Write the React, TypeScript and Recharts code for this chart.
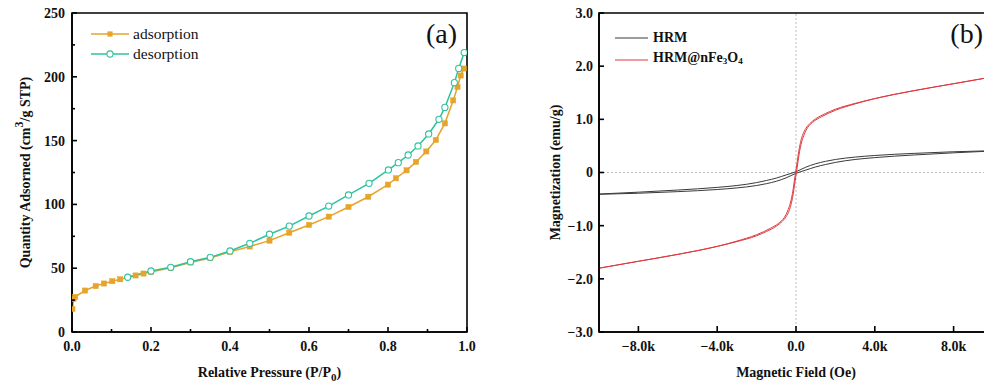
import React from 'react';
import { LineChart, Line, XAxis, YAxis, ReferenceArea, ReferenceLine, Legend, Label } from 'recharts';

const SERIF = '"Liberation Serif", "Times New Roman", Times, serif';

// ---------- Panel (a): N2 isotherm ----------
const adsorptionP = [0.001, 0.004, 0.008, 0.033, 0.06, 0.081, 0.102, 0.122, 0.161, 0.181, 0.2, 0.25, 0.3, 0.35, 0.4, 0.45, 0.5, 0.55, 0.6, 0.65, 0.7, 0.75, 0.8, 0.82, 0.847, 0.871, 0.897, 0.921, 0.944, 0.965, 0.976, 0.984, 0.992];
const adsorptionQ = [18, 26, 27.5, 32.5, 36, 38, 39.8, 41.3, 44.3, 45.8, 47, 50.3, 54.5, 58, 62.8, 67, 71.6, 77.8, 83.9, 90.4, 98, 106, 115.5, 120.5, 126.7, 133.3, 141.5, 150.5, 163.5, 181.5, 192, 201, 206.5];
const desorptionP = [0.993, 0.979, 0.968, 0.944, 0.929, 0.903, 0.876, 0.851, 0.826, 0.801, 0.752, 0.7, 0.65, 0.6, 0.55, 0.5, 0.45, 0.4, 0.35, 0.3, 0.25, 0.2, 0.141];
const desorptionQ = [219, 206.6, 195.4, 176, 166.7, 155.2, 145.8, 138.7, 132.7, 127, 116.5, 107.4, 98.7, 90.9, 83, 76.6, 69.5, 63.5, 58.5, 55.1, 50.7, 47.8, 42.9];
const pressureTicks = [0, 0.1, 0.2, 0.3, 0.4, 0.5, 0.6, 0.7, 0.8, 0.9, 1.0];
const quantityTicks = [0, 25, 50, 75, 100, 125, 150, 175, 200, 225, 250];

// ---------- Panel (b): magnetic hysteresis ----------
const hrmUpperH = [-10000, -8000, -6000, -4000, -3000, -2000, -1500, -1000, -500, 0, 500, 1000, 1500, 2000, 3000, 4000, 6000, 8000, 10000];
const hrmUpperM = [-0.405, -0.37, -0.33, -0.28, -0.245, -0.19, -0.15, -0.105, -0.045, 0.015, 0.1, 0.165, 0.21, 0.245, 0.29, 0.32, 0.36, 0.39, 0.41];
const hrmLowerH = [-10000, -8000, -6000, -4000, -3000, -2000, -1500, -1000, -500, 0, 500, 1000, 1500, 2000, 3000, 4000, 6000, 8000, 10000];
const hrmLowerM = [-0.41, -0.39, -0.36, -0.32, -0.29, -0.245, -0.21, -0.165, -0.1, -0.015, 0.045, 0.105, 0.15, 0.19, 0.245, 0.28, 0.33, 0.37, 0.405];
const feUpperH = [-10000, -8000, -6000, -4000, -3000, -2000, -1300, -900, -600, -400, -250, -160, -100, -40, 20, 80, 150, 250, 350, 500, 700, 1000, 1500, 2000, 3000, 4000, 6000, 8000, 10000];
const feUpperM = [-1.8, -1.67, -1.54, -1.39, -1.29, -1.17, -1.05, -0.96, -0.85, -0.7, -0.52, -0.35, -0.2, -0.05, 0.1, 0.25, 0.42, 0.6, 0.72, 0.83, 0.92, 1.01, 1.11, 1.19, 1.3, 1.39, 1.54, 1.67, 1.8];
const feLowerH = [-10000, -8000, -6000, -4000, -3000, -2000, -1500, -1000, -700, -500, -350, -250, -150, -80, -20, 40, 100, 160, 250, 400, 600, 900, 1300, 2000, 3000, 4000, 6000, 8000, 10000];
const feLowerM = [-1.8, -1.67, -1.54, -1.39, -1.3, -1.19, -1.11, -1.01, -0.92, -0.83, -0.72, -0.6, -0.42, -0.25, -0.1, 0.05, 0.2, 0.35, 0.52, 0.7, 0.85, 0.96, 1.05, 1.17, 1.29, 1.39, 1.54, 1.67, 1.8];
const fieldTicks = [-8000, -4000, 0, 4000, 8000];
const magTicks = [-3, -2, -1, 0, 1, 2, 3];

const zip = (xs: number[], ys: number[], kx: string, ky: string) =>
  xs.map((x, i) => ({ [kx]: x, [ky]: ys[i] }));

const adsData = zip(adsorptionP, adsorptionQ, 'p', 'q');
const desData = zip(desorptionP, desorptionQ, 'p', 'q');
const hrmUpper = zip(hrmUpperH, hrmUpperM, 'h', 'm');
const hrmLower = zip(hrmLowerH, hrmLowerM, 'h', 'm');
const feUpper = zip(feUpperH, feUpperM, 'h', 'm');
const feLower = zip(feLowerH, feLowerM, 'h', 'm');

const ORANGE = '#E6A42B';
const TEAL = '#2FC29E';
const RED = '#DD3A3F';
const DARK = '#3a3a3a';

const tickText = { fontFamily: SERIF, fontWeight: 700, fontSize: 14, fill: '#111' } as const;

const minus = (s: string) => s.replace('-', '\u2212');

const makeXTick = (isMajor: (v: number) => boolean, fmt: (v: number) => string, major = 5, minor = 3) => (props: any) => {
  const { x, y, payload } = props;
  const v = payload.value;
  const mj = isMajor(v);
  return (
    <g>
      <line x1={x} x2={x} y1={y} y2={y - (mj ? major : minor)} stroke="#000" strokeWidth={1.6} />
      {mj && (
        <text x={x} y={y + 19} textAnchor="middle" {...tickText}>{fmt(v)}</text>
      )}
    </g>
  );
};

const makeYTick = (isMajor: (v: number) => boolean, fmt: (v: number) => string, gap: number, major = 5, minor = 3) => (props: any) => {
  const { x, y, payload } = props;
  const v = payload.value;
  const mj = isMajor(v);
  return (
    <g>
      <line x1={x} x2={x + (mj ? major : minor)} y1={y} y2={y} stroke="#000" strokeWidth={1.6} />
      {mj && (
        <text x={x - gap} y={y} dy="0.35em" textAnchor="end" {...tickText}>{fmt(v)}</text>
      )}
    </g>
  );
};

const pTick = makeXTick((v) => Math.round(v * 10) % 2 === 0, (v) => v.toFixed(1));
const qTick = makeYTick((v) => v % 50 === 0, (v) => String(v), 7);
const hTick = makeXTick(() => true, (v) => (v === 0 ? '0.0' : minus((v / 1000).toFixed(1) + 'k')), 6);
const mTick = makeYTick(() => true, (v) => (v === 0 ? '0' : minus(v.toFixed(1))), 6);

const titleStyle = { fontFamily: SERIF, fontWeight: 700, fontSize: 14, fill: '#111' } as const;

const XTitleA = (props: any) => {
  const vb = props.viewBox;
  return (
    <text x={vb.x + vb.width / 2} y={vb.y + 45} textAnchor="middle" {...titleStyle}>
      Relative Pressure (P/P<tspan dy={4} fontSize={11}>0</tspan><tspan dy={-4}>)</tspan>
    </text>
  );
};
const YTitleA = (props: any) => {
  const vb = props.viewBox;
  const cx = vb.x + 25;
  const cy = vb.y + vb.height / 2;
  return (
    <text x={cx} y={cy} transform={`rotate(-90 ${cx} ${cy})`} textAnchor="middle" dominantBaseline="central" {...titleStyle}>
      Quantity Adsorned (cm<tspan dy={-6} fontSize={12}>3</tspan><tspan dy={6}>/g STP)</tspan>
    </text>
  );
};
const XTitleB = (props: any) => {
  const vb = props.viewBox;
  return (
    <text x={vb.x + vb.width / 2} y={vb.y + 45} textAnchor="middle" {...titleStyle}>
      Magnetic Field (Oe)
    </text>
  );
};
const YTitleB = (props: any) => {
  const vb = props.viewBox;
  const cx = vb.x + vb.width - 44;
  const cy = vb.y + vb.height / 2;
  return (
    <text x={cx} y={cy} transform={`rotate(-90 ${cx} ${cy})`} textAnchor="middle" dominantBaseline="central" {...titleStyle}>
      Magnetization (emu/g)
    </text>
  );
};

const SquareDot = (props: any) => {
  const { cx, cy } = props;
  if (cx == null || cy == null) return null;
  return <rect x={cx - 2.6} y={cy - 2.6} width={5.2} height={5.2} fill={ORANGE} stroke={ORANGE} strokeWidth={0.5} />;
};
const CircleDot = (props: any) => {
  const { cx, cy } = props;
  if (cx == null || cy == null) return null;
  return <circle cx={cx} cy={cy} r={3.1} fill="#fff" stroke={TEAL} strokeWidth={1.1} />;
};

const LegendA = () => (
  <div style={{ fontFamily: SERIF, fontSize: 15.5, color: '#111' }}>
    {[
      { name: 'adsorption', color: ORANGE, sym: 'square' },
      { name: 'desorption', color: TEAL, sym: 'circle' },
    ].map((it) => (
      <div key={it.name} style={{ display: 'flex', alignItems: 'center', height: 20, whiteSpace: 'nowrap' }}>
        <svg width={38} height={10} style={{ marginRight: 4 }}>
          <line x1={0} x2={38} y1={5} y2={5} stroke={it.color} strokeWidth={1.6} />
          {it.sym === 'square' ? (
            <rect x={16.4} y={2.4} width={5.2} height={5.2} fill={it.color} />
          ) : (
            <circle cx={19} cy={5} r={3.1} fill="#fff" stroke={it.color} strokeWidth={1.1} />
          )}
        </svg>
        <span style={{ lineHeight: '20px' }}>{it.name}</span>
      </div>
    ))}
  </div>
);

const LegendB = () => (
  <div style={{ fontFamily: SERIF, fontSize: 14, fontWeight: 700, color: '#111' }}>
    {[
      { name: <span>HRM</span>, color: DARK, key: 'a' },
      { name: <span>HRM@nFe<sub style={{ fontSize: 9, verticalAlign: '-2px' }}>3</sub>O<sub style={{ fontSize: 9, verticalAlign: '-2px' }}>4</sub></span>, color: RED, key: 'b' },
    ].map((it) => (
      <div key={it.key} style={{ display: 'flex', alignItems: 'center', height: 21.7, whiteSpace: 'nowrap' }}>
        <svg width={33} height={10} style={{ marginRight: 5 }}>
          <line x1={0} x2={33} y1={5} y2={5} stroke={it.color} strokeWidth={1.1} />
        </svg>
        <span style={{ lineHeight: '20px' }}>{it.name}</span>
      </div>
    ))}
  </div>
);

const axisLine = { stroke: '#000', strokeWidth: 1.6 };

export default function App() {
  return (
    <div style={{ position: 'absolute', left: 0, top: 0, width: 984, height: 382, overflow: 'hidden', background: '#fff' }}>
      <div style={{ position: 'absolute', left: 0, top: 0 }}>
        <LineChart width={480} height={382} margin={{ top: 13, right: 13, bottom: 0, left: 0 }}>
          <XAxis type="number" dataKey="p" domain={[0, 1]} ticks={pressureTicks} interval={0} allowDataOverflow
            tickSize={0} tickMargin={0} tickLine={false} axisLine={axisLine} tick={pTick} height={50}>
            <Label content={XTitleA} />
          </XAxis>
          <YAxis type="number" dataKey="q" domain={[0, 250]} ticks={quantityTicks} interval={0} allowDataOverflow
            tickSize={0} tickMargin={0} tickLine={false} axisLine={axisLine} tick={qTick} width={72}>
            <Label content={YTitleA} />
          </YAxis>
          <ReferenceArea x1={0} x2={1} y1={0} y2={250} fill="none" stroke="#000" strokeWidth={1.6} ifOverflow="visible"
            label={{ value: '(a)', position: 'insideTopRight', offset: 10, fontFamily: SERIF, fontSize: 28, fill: '#111' }} />
          <Line data={adsData} dataKey="q" name="adsorption" type="linear" stroke={ORANGE} strokeWidth={1.5}
            dot={<SquareDot />} activeDot={false} isAnimationActive={false} />
          <Line data={desData} dataKey="q" name="desorption" type="linear" stroke={TEAL} strokeWidth={1.5}
            dot={<CircleDot />} activeDot={false} isAnimationActive={false} />
          <Legend content={<LegendA />} layout="vertical" align="center" verticalAlign="middle"
            wrapperStyle={{ left: 91, top: 24, width: 'auto', height: 'auto' }} />
        </LineChart>
      </div>
      <div style={{ position: 'absolute', left: 480, top: 0 }}>
        <LineChart width={526} height={382} margin={{ top: 13, right: 13, bottom: 0, left: 0 }}>
          <XAxis type="number" dataKey="h" domain={[-10000, 10000]} ticks={fieldTicks} interval={0} allowDataOverflow
            tickSize={0} tickMargin={0} tickLine={false} axisLine={axisLine} tick={hTick} height={50}>
            <Label content={XTitleB} />
          </XAxis>
          <YAxis type="number" dataKey="m" domain={[-3, 3]} ticks={magTicks} interval={0} allowDataOverflow
            tickSize={0} tickMargin={0} tickLine={false} axisLine={axisLine} tick={mTick} width={119}>
            <Label content={YTitleB} />
          </YAxis>
          <ReferenceArea x1={-10000} x2={10000} y1={-3} y2={3} fill="none" stroke="#000" strokeWidth={1.6} ifOverflow="visible"
            label={{ value: '(b)', position: 'insideTopRight', offset: 10, fontFamily: SERIF, fontSize: 28, fill: '#111' }} />
          <ReferenceLine x={0} stroke="#aaa" strokeWidth={0.8} strokeDasharray="2 2" />
          <ReferenceLine y={0} stroke="#aaa" strokeWidth={0.8} strokeDasharray="2 2" />
          <Line data={hrmLower} dataKey="m" name="HRM" type="monotone" stroke={DARK} strokeWidth={1} dot={false} activeDot={false} isAnimationActive={false} />
          <Line data={hrmUpper} dataKey="m" name="HRM " type="monotone" stroke={DARK} strokeWidth={1} dot={false} activeDot={false} isAnimationActive={false} legendType="none" />
          <Line data={feLower} dataKey="m" name="HRM@nFe3O4" type="monotone" stroke={RED} strokeWidth={1} dot={false} activeDot={false} isAnimationActive={false} />
          <Line data={feUpper} dataKey="m" name="HRM@nFe3O4 " type="monotone" stroke={RED} strokeWidth={1} dot={false} activeDot={false} isAnimationActive={false} legendType="none" />
          <Legend content={<LegendB />} layout="vertical" align="center" verticalAlign="middle"
            wrapperStyle={{ left: 135, top: 27, width: 'auto', height: 'auto' }} />
        </LineChart>
      </div>
    </div>
  );
}
